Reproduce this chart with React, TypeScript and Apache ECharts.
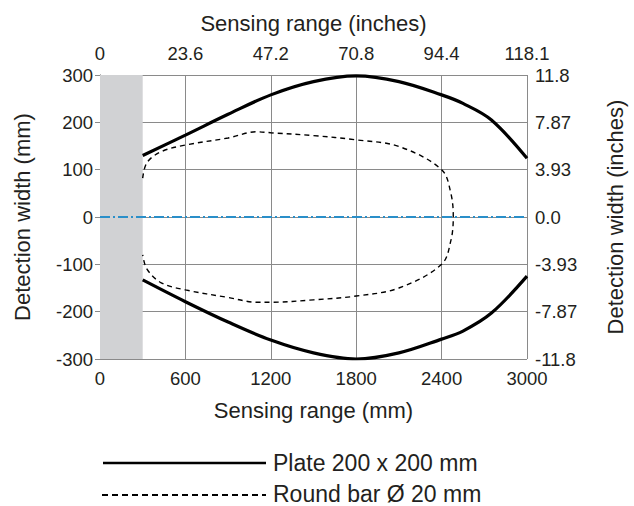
import React, { useEffect, useRef } from "react";
import * as echarts from "echarts";

const bottomTicks = ["0", "600", "1200", "1800", "2400", "3000"];
const topTicks = ["0", "23.6", "47.2", "70.8", "94.4", "118.1"];
const leftTicks = ["-300", "-200", "-100", "0", "100", "200", "300"];
const rightTicks = ["-11.8", "-7.87", "-3.93", "0.0", "3.93", "7.87", "11.8"];

const plateX = [300, 600, 900, 1200, 1500, 1800, 2100, 2400, 2550, 2750, 3000];
const plateUpper = [130, 173, 217, 258, 286, 298, 286, 258, 240, 205, 124];
const plateLower = [-133, -179, -222, -260, -287, -300, -287, -258, -241, -203, -125];

const barX = [300, 330, 430, 600, 900, 1100, 1200, 1500, 1800, 2100, 2400, 2465, 2482, 2465, 2400, 2100, 1800, 1500, 1200, 1100, 900, 600, 430, 330, 300];
const barY = [82, 115, 138, 152, 167, 180, 178, 172, 163, 149, 100, 50, 0, -50, -100, -150, -167, -175, -180, -180, -170, -154, -139, -110, -80];

const blindZone = [0, 300];
const centerLine = [[0, 0], [3000, 0]];

const legendLabels = ["Plate 200 x 200 mm", "Round bar Ø 20 mm"];

const TXT = "#231f20";
const GRID = "#8a8a8a";
const FONT = "Liberation Sans";
const TICK_SIZE = 18.5;
const NAME_SIZE = 22;
const LEGEND_SIZE = 23;

export default function App() {
  const ref = useRef<HTMLDivElement>(null);
  useEffect(() => {
    document.body.style.margin = "0";
    const chart = echarts.init(ref.current!, null, { renderer: "svg" });
    const axisCommon = {
      axisLine: { show: true, lineStyle: { color: GRID, width: 1 } },
      axisTick: { show: true, inside: false, length: 5, lineStyle: { color: GRID } },
      splitLine: { show: true, lineStyle: { color: GRID, width: 1 } },
      nameTextStyle: { color: TXT, fontSize: NAME_SIZE, fontFamily: FONT },
    };
    const lbl = { color: TXT, fontSize: TICK_SIZE, fontFamily: FONT };
    chart.setOption({
      animation: false,
      backgroundColor: "#ffffff",
      grid: { left: 100, top: 75, width: 432, height: 284 },
      xAxis: [
        {
          type: "value", position: "bottom", min: 0, max: 3000, interval: 600,
          ...axisCommon,
          name: "Sensing range (mm)", nameLocation: "middle", nameGap: 40,
          axisLabel: { ...lbl, margin: 10,
            formatter: (v: number) => bottomTicks[Math.round(v / 600)] },
        },
        {
          type: "value", position: "top", min: 0, max: 3000, interval: 600,
          ...axisCommon, splitLine: { show: false },
          name: "Sensing range (inches)", nameLocation: "middle", nameGap: 41,
          axisLabel: { ...lbl, margin: 12,
            formatter: (v: number) => topTicks[Math.round(v / 600)] },
        },
      ],
      yAxis: [
        {
          type: "value", position: "left", min: -300, max: 300, interval: 100,
          ...axisCommon,
          name: "Detection width (mm)", nameLocation: "middle", nameGap: 67,
          axisLabel: { ...lbl, margin: 7,
            formatter: (v: number) => leftTicks[Math.round((v + 300) / 100)] },
        },
        {
          type: "value", position: "right", min: -300, max: 300, interval: 100,
          ...axisCommon, splitLine: { show: false },
          name: "Detection width (inches)", nameLocation: "middle", nameGap: 77,
          axisLabel: { ...lbl, margin: 8,
            formatter: (v: number) => rightTicks[Math.round((v + 300) / 100)] },
        },
      ],
      series: [
        {
          type: "line", data: centerLine, symbol: "none", z: 1,
          lineStyle: { color: "#2a8fc9", width: 1.8, type: [10, 3, 2, 3] },
          markArea: {
            silent: true,
            itemStyle: { color: "#d1d2d4" },
            data: [[{ xAxis: blindZone[0], yAxis: -300 }, { xAxis: blindZone[1], yAxis: 300 }]],
          },
        },
        {
          type: "line", data: plateX.map((x, i) => [x, plateUpper[i]]), symbol: "none", smooth: 0.35,
          lineStyle: { color: "#000", width: 3.2 }, z: 3,
        },
        {
          type: "line", data: plateX.map((x, i) => [x, plateLower[i]]), symbol: "none", smooth: 0.35,
          lineStyle: { color: "#000", width: 3.2 }, z: 3,
        },
        {
          type: "line", data: barX.map((x, i) => [x, barY[i]]), symbol: "none", smooth: 0.35,
          lineStyle: { color: "#000", width: 1.4, type: [5, 4] }, z: 3,
        },
      ],
      graphic: [
        { type: "line", shape: { x1: 103, y1: 463, x2: 266, y2: 463 }, style: { stroke: "#000", lineWidth: 2.5 } },
        { type: "text", x: 273, y: 463, style: { text: legendLabels[0], fill: TXT, fontSize: LEGEND_SIZE, fontFamily: FONT, verticalAlign: "middle" } },
        { type: "line", shape: { x1: 102, y1: 495, x2: 266, y2: 495 }, style: { stroke: "#000", lineWidth: 2, lineDash: [6, 4] } },
        { type: "text", x: 273, y: 494, style: { text: legendLabels[1], fill: TXT, fontSize: LEGEND_SIZE, fontFamily: FONT, verticalAlign: "middle" } },
      ],
    });
    return () => chart.dispose();
  }, []);
  return <div ref={ref} style={{ width: 634, height: 506 }} />;
}
